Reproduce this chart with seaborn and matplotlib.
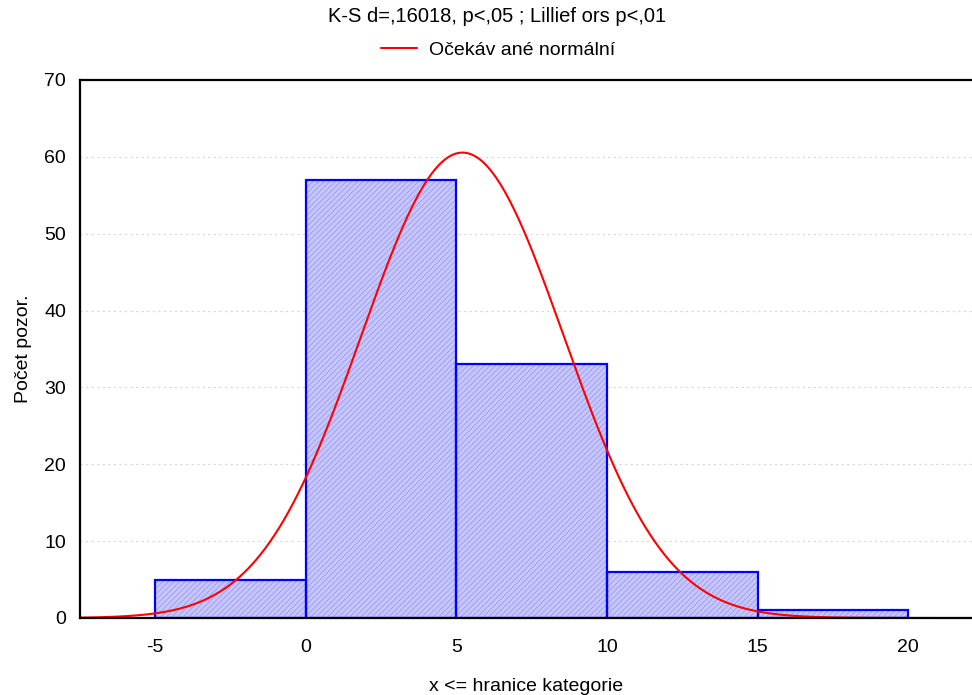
import numpy as np
import pandas as pd
import matplotlib
matplotlib.use("Agg")
import matplotlib.pyplot as plt
import seaborn as sns

# hranice kategorii a pocty pozorovani
bin_edges = [-5, 0, 5, 10, 15, 20]
counts = [5, 57, 33, 6, 1]
n_obs = sum(counts)

# parametry ocekavaneho normalniho rozdeleni (odhad z obrazku)
mean_est = 5.2
sd_est = 3.36

title_text = "K-S d=,16018, p<,05 ; Lillief ors p<,01"
legend_label = "Očekáv ané normální"
xlabel = "x <= hranice kategorie"
ylabel = "Počet pozor."

sns.set_style("white")
plt.rcParams['font.family'] = ['Liberation Sans', 'DejaVu Sans']
plt.rcParams['hatch.linewidth'] = 0.6
plt.rcParams['axes.unicode_minus'] = False
plt.rcParams['text.color'] = 'black'
plt.rcParams['axes.labelcolor'] = 'black'

centers = [(a + b) / 2 for a, b in zip(bin_edges[:-1], bin_edges[1:])]
df = pd.DataFrame({"x": centers, "n": counts})

width = bin_edges[1] - bin_edges[0]
xs = np.linspace(-7.5, 22.5, 400)
ys = n_obs * width / (sd_est * np.sqrt(2 * np.pi)) * np.exp(-(xs - mean_est) ** 2 / (2 * sd_est ** 2))
curve = pd.DataFrame({"x": xs, "y": ys})

fig = plt.figure(figsize=(9.72, 6.95), dpi=100)
ax = fig.add_axes([80 / 972, 77 / 695, 892 / 972, 538 / 695])

# vypln s jemnym srafovanim
sns.histplot(data=df, x="x", weights="n", bins=bin_edges, ax=ax,
             color="#c6c6fc", edgecolor="#9c9cf2", linewidth=0, hatch="//////", alpha=1)
# obrys sloupcu
sns.histplot(data=df, x="x", weights="n", bins=bin_edges, ax=ax,
             fill=False, color="#0000ff", linewidth=1.6, element="bars")

sns.lineplot(data=curve, x="x", y="y", ax=ax, color="#ff0000", linewidth=1.5, label=legend_label)

ax.set_xlim(-7.5, 22.12)
ax.set_ylim(0, 70)
ax.set_xticks([-5, 0, 5, 10, 15, 20])
ax.set_yticks(range(0, 71, 10))
ax.yaxis.grid(True, color="#d8d8d8", linestyle=(0, (2, 3)), linewidth=0.8)
ax.set_axisbelow(True)
for side in ["left", "top", "bottom"]:
    ax.spines[side].set_color("black")
    ax.spines[side].set_linewidth(1.6)
ax.spines["right"].set_visible(False)
ax.tick_params(axis="both", direction="in", length=4, width=1, labelsize=14,
               colors="black", labelcolor="black")
ax.tick_params(axis="x", pad=15)
ax.tick_params(axis="y", pad=10)

ax.set_xlabel(xlabel, fontsize=14, labelpad=16)
ax.set_ylabel(ylabel, fontsize=14, labelpad=9)

fig.text(497 / 972, 1 - 17 / 695, title_text, ha="center", va="center", fontsize=14.5)
ax.legend(loc="center", bbox_to_anchor=((498 - 80) / 892, 1 + 30 / 538), frameon=False,
          fontsize=14, handlelength=1.85, handletextpad=0.65)

fig.savefig("out.png", dpi=100)
